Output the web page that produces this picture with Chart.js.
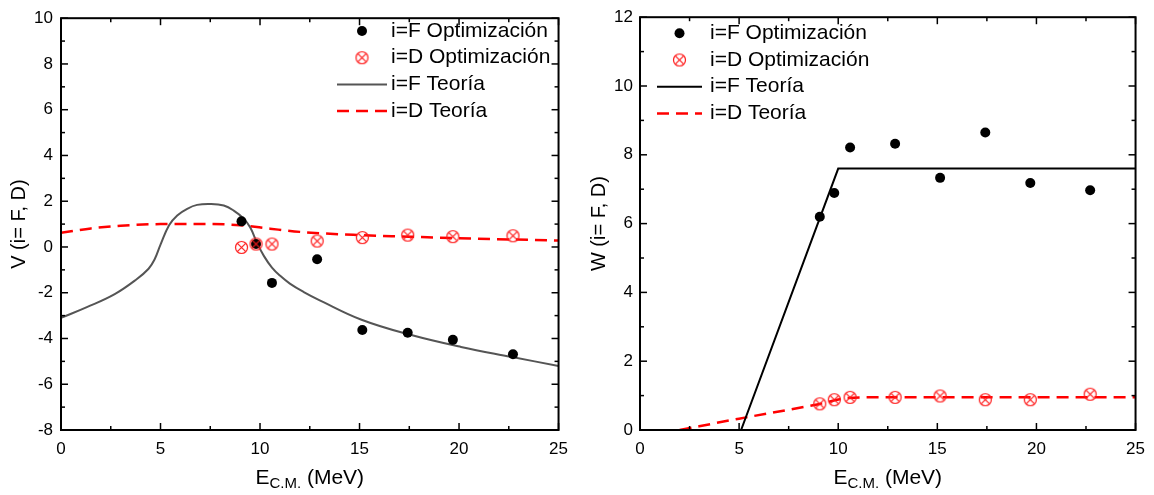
<!DOCTYPE html>
<html>
<head>
<meta charset="utf-8">
<script src="https://cdn.jsdelivr.net/npm/chart.js@4.4.1/dist/chart.umd.min.js"></script>
<style>
  body { margin: 0; background: #fff; }
  .box { position: absolute; top: 0; width: 577px; height: 495px; }
</style>
</head>
<body>
<div class="box" style="left:0"><canvas id="chartV" width="577" height="495"></canvas></div>
<div class="box" style="left:577px"><canvas id="chartW" width="577" height="495"></canvas></div>
<script>
/* datos */
const energies = [9.07, 9.8, 10.6, 12.87, 15.14, 17.42, 19.69, 22.71];
const vOptF = [1.12, 0.13, -1.57, -0.54, -3.63, -3.75, -4.06, -4.69];
const vOptD = [-0.02, 0.13, 0.13, 0.26, 0.41, 0.52, 0.45, 0.49];
const wOptF = [6.2, 6.89, 8.21, 8.32, 7.33, 8.65, 7.18, 6.97];
const wOptD = [0.76, 0.88, 0.95, 0.95, 0.99, 0.88, 0.88, 1.04];

const vTeoFE = [0, 1.3, 2.7, 3.8, 4.4, 4.7, 5.0, 5.43, 5.84, 6.34, 6.84, 7.51, 8.18, 8.68, 9.18, 9.51, 9.84, 10.2, 10.6, 11.0, 11.5, 12.2, 13.0, 15.1, 17.6, 20.1, 22.6, 25];
const vTeoF  = [-3.1, -2.63, -2.06, -1.41, -0.95, -0.55, 0.1, 0.95, 1.38, 1.67, 1.84, 1.88, 1.81, 1.59, 1.24, 0.85, 0.2, -0.4, -0.9, -1.25, -1.6, -1.97, -2.33, -3.18, -3.85, -4.37, -4.8, -5.2];
const vTeoDE = [0, 1.5, 3, 5, 7.5, 9, 10.5, 12, 15, 17.5, 20, 22.5, 25];
const vTeoD  = [0.62, 0.81, 0.93, 1.0, 1.0, 0.95, 0.8, 0.66, 0.52, 0.45, 0.38, 0.33, 0.28];

const wTeoFE = [5.1, 10, 25];
const wTeoF  = [0, 7.6, 7.6];
const wTeoDE = [2, 5, 9, 10.5, 12, 25];
const wTeoD  = [0, 0.33, 0.75, 0.93, 0.95, 0.95];

const xTicks = [0, 5, 10, 15, 20, 25];
const labels = ['i=F Optimización', 'i=D Optimización', 'i=F Teoría', 'i=D Teoría'];

const FONT = '"Liberation Sans", Arial, sans-serif';

const pairs = (xs, ys) => xs.map((x, i) => ({ x, y: ys[i] }));

// marcador círculo con cruz
const crossCircle = document.createElement('canvas');
crossCircle.width = 15; crossCircle.height = 15;
(function () {
  const c = crossCircle.getContext('2d');
  c.strokeStyle = '#ff1a1a';
  c.lineWidth = 1.2;
  c.beginPath(); c.arc(7.5, 7.5, 6, 0, Math.PI * 2); c.stroke();
  const d = 4.2;
  c.beginPath();
  c.moveTo(7.5 - d, 7.5 - d); c.lineTo(7.5 + d, 7.5 + d);
  c.moveTo(7.5 + d, 7.5 - d); c.lineTo(7.5 - d, 7.5 + d);
  c.stroke();
})();

const framePlugin = {
  id: 'frame',
  afterDatasetsDraw(chart, args, opts) {
    const { ctx, chartArea: a, scales: { x, y } } = chart;
    ctx.save();
    ctx.strokeStyle = '#000';
    ctx.lineWidth = 1.5;
    const seg = (x0, y0, x1, y1) => { ctx.beginPath(); ctx.moveTo(x0, y0); ctx.lineTo(x1, y1); ctx.stroke(); };
    const isMajor = (v, step) => Math.abs(v / step - Math.round(v / step)) < 1e-6;
    for (let v = x.min; v <= x.max + 1e-9; v += opts.xMinor) {
      const len = isMajor(v, opts.xMajor) ? 7 : 4;
      const px = x.getPixelForValue(v);
      seg(px, a.bottom, px, a.bottom - len);
      seg(px, a.top, px, a.top + len);
    }
    for (let v = y.min; v <= y.max + 1e-9; v += opts.yMinor) {
      const len = isMajor(v, opts.yMajor) ? 7 : 4;
      const py = y.getPixelForValue(v);
      seg(a.left, py, a.left + len, py);
      seg(a.right, py, a.right - len, py);
    }
    ctx.lineWidth = 2;
    ctx.strokeRect(a.left, a.top, a.right - a.left, a.bottom - a.top);
    ctx.restore();
  }
};

const legendPlugin = {
  id: 'innerLegend',
  afterDraw(chart, args, opts) {
    const { ctx } = chart;
    ctx.save();
    ctx.font = '21px ' + FONT;
    ctx.fillStyle = '#000';
    ctx.textBaseline = 'middle';
    chart.data.datasets.forEach((ds, i) => {
      const cy = opts.top + i * opts.gap;
      const mid = (opts.lineStart + opts.lineEnd) / 2;
      if (ds.showLine) {
        ctx.strokeStyle = ds.borderColor;
        ctx.lineWidth = ds.borderWidth;
        ctx.setLineDash(ds.borderDash || []);
        ctx.beginPath(); ctx.moveTo(opts.lineStart, cy); ctx.lineTo(opts.lineEnd, cy); ctx.stroke();
        ctx.setLineDash([]);
      } else if (ds.pointStyle instanceof HTMLCanvasElement) {
        ctx.drawImage(ds.pointStyle, mid - 7.5, cy - 7.5);
      } else {
        ctx.beginPath(); ctx.arc(mid, cy, ds.pointRadius, 0, Math.PI * 2);
        ctx.fillStyle = ds.backgroundColor; ctx.fill(); ctx.fillStyle = '#000';
      }
      ctx.fillText(ds.label, opts.textX, cy);
    });
    ctx.restore();
  }
};

const xTitlePlugin = {
  id: 'xTitle',
  afterDraw(chart, args, opts) {
    const { ctx, chartArea: a } = chart;
    ctx.save();
    ctx.fillStyle = '#000';
    ctx.textBaseline = 'alphabetic';
    const big = '21px ' + FONT, small = '15px ' + FONT;
    ctx.font = big; const wE = ctx.measureText('E').width; const wR = ctx.measureText(' (MeV)').width;
    ctx.font = small; const wS = ctx.measureText('C.M.').width;
    let x0 = (a.left + a.right) / 2 - (wE + wS + wR) / 2;
    const base = opts.baseline;
    ctx.font = big; ctx.fillText('E', x0, base); x0 += wE;
    ctx.font = small; ctx.fillText('C.M.', x0, base + 4); x0 += wS;
    ctx.font = big; ctx.fillText(' (MeV)', x0, base);
    ctx.restore();
  }
};

function scatterSet(label, ys, style) {
  return {
    label, data: pairs(energies, ys), showLine: false,
    ...style
  };
}

function lineSet(label, xs, ys, color, width, dash, smooth) {
  return {
    label, data: pairs(xs, ys), showLine: true,
    borderColor: color, borderWidth: width, borderDash: dash,
    pointRadius: 0, fill: false,
    cubicInterpolationMode: smooth === 'monotone' ? 'monotone' : 'default',
    tension: smooth === 'bezier' ? 0.4 : 0,
    order: 3
  };
}

function makeChart(canvas, cfg) {
  return new Chart(canvas, {
    type: 'scatter',
    data: {
      datasets: [
        scatterSet(labels[0], cfg.optF, { pointRadius: 5, pointBackgroundColor: '#000', backgroundColor: '#000', pointBorderWidth: 0, order: 2 }),
        scatterSet(labels[1], cfg.optD, { pointStyle: crossCircle, pointRadius: 6, order: 1 }),
        lineSet(labels[2], cfg.teoFE, cfg.teoF, cfg.fColor, 2, [], cfg.smoothF),
        lineSet(labels[3], cfg.teoDE, cfg.teoD, '#ff0000', 2.5, [12, 7], 'monotone')
      ]
    },
    plugins: [framePlugin, legendPlugin, xTitlePlugin],
    options: {
      responsive: false,
      animation: false,
      layout: { padding: { top: cfg.padTop, right: cfg.padRight, left: 0, bottom: 0 } },
      plugins: {
        legend: { display: false },
        tooltip: { enabled: false },
        frame: { xMajor: 5, xMinor: 2.5, yMajor: 2, yMinor: 1 },
        innerLegend: cfg.legend,
        xTitle: { baseline: 484 }
      },
      scales: {
        x: {
          type: 'linear', min: 0, max: 25,
          afterBuildTicks: s => { s.ticks = xTicks.map(v => ({ value: v })); },
          afterFit: s => { s.height = 65; },
          grid: { display: false, drawTicks: false },
          border: { display: false },
          ticks: { color: '#000', padding: 9, font: { size: 17, family: FONT } }
        },
        y: {
          type: 'linear', min: cfg.yMin, max: cfg.yMax,
          afterBuildTicks: s => { s.ticks = cfg.yTicks.map(v => ({ value: v })); },
          afterFit: s => { s.width = cfg.yWidth; },
          grid: { display: false, drawTicks: false },
          border: { display: false },
          ticks: { color: '#000', padding: cfg.yPad, font: { size: 17, family: FONT } },
          title: {
            display: true, text: cfg.yTitle, color: '#000',
            padding: { top: cfg.titlePad, bottom: 0 },
            font: { size: 20, family: FONT }
          }
        }
      }
    }
  });
}

makeChart(document.getElementById('chartV'), {
  optF: vOptF, optD: vOptD,
  teoFE: vTeoFE, teoF: vTeoF, teoDE: vTeoDE, teoD: vTeoD,
  fColor: '#555555', smoothF: 'bezier',
  yMin: -8, yMax: 10, yTicks: [-8, -6, -4, -2, 0, 2, 4, 6, 8, 10],
  yTitle: 'V (i= F, D)', yWidth: 61, yPad: 8, titlePad: 7,
  padTop: 11, padRight: 16,
  legend: { top: 31, gap: 26.7, lineStart: 337, lineEnd: 387, textX: 391 }
});

makeChart(document.getElementById('chartW'), {
  optF: wOptF, optD: wOptD,
  teoFE: wTeoFE, teoF: wTeoF, teoDE: wTeoDE, teoD: wTeoD,
  fColor: '#000000', smoothF: 'none',
  yMin: 0, yMax: 12, yTicks: [0, 2, 4, 6, 8, 10, 12],
  yTitle: 'W (i= F, D)', yWidth: 63, yPad: 7, titlePad: 10,
  padTop: 12, padRight: 15,
  legend: { top: 33.3, gap: 26.7, lineStart: 80, lineEnd: 125, textX: 133 }
});
</script>
</body>
</html>
